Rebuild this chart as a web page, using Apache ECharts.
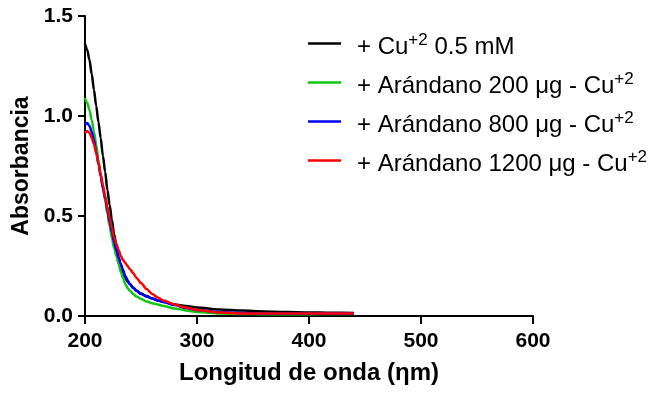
<!DOCTYPE html>
<html>
<head>
<meta charset="utf-8">
<script src="https://cdn.jsdelivr.net/npm/echarts@6/dist/echarts.min.js"></script>
<style>
html,body{margin:0;padding:0;background:#fff;}
#chart{width:659px;height:397px;}
</style>
</head>
<body>
<div id="chart"></div>
<script>
// Wavelength (nm) sample points
const wavelengths = [200,202,204,206,208,210,212,214,216,218,220,222,224,226,228,230,232,234,236,238,240,243,246,250,255,260,265,270,280,290,300,320,340,360,380,400,420,440];

const cuOnly = [1.36,1.33,1.28,1.21,1.13,1.05,0.97,0.89,0.80,0.72,0.63,0.555,0.48,0.41,0.35,0.295,0.25,0.215,0.19,0.172,0.16,0.142,0.127,0.112,0.10,0.088,0.078,0.07,0.058,0.05,0.043,0.033,0.027,0.023,0.02,0.018,0.016,0.015];
const aran200 = [1.09,1.065,1.03,0.98,0.92,0.855,0.78,0.705,0.64,0.58,0.51,0.45,0.39,0.34,0.30,0.26,0.22,0.19,0.16,0.14,0.127,0.11,0.097,0.085,0.073,0.064,0.057,0.05,0.038,0.028,0.02,0.012,0.01,0.009,0.009,0.009,0.01,0.01];
const aran800 = [0.955,0.965,0.95,0.92,0.88,0.82,0.76,0.70,0.64,0.59,0.53,0.47,0.42,0.37,0.33,0.29,0.26,0.23,0.20,0.18,0.16,0.14,0.125,0.11,0.097,0.087,0.078,0.07,0.055,0.04,0.03,0.02,0.015,0.013,0.012,0.012,0.012,0.012];
const aran1200 = [0.915,0.925,0.915,0.89,0.86,0.815,0.765,0.71,0.655,0.60,0.545,0.49,0.44,0.39,0.36,0.33,0.30,0.28,0.265,0.25,0.235,0.215,0.19,0.165,0.135,0.11,0.093,0.078,0.058,0.042,0.03,0.017,0.013,0.012,0.012,0.012,0.013,0.013];

const seriesNames = ['cu', 'a200', 'a800', 'a1200'];
const seriesLabels = {
  cu: '{a|+ Cu}{s|+2}{a| 0.5 mM}',
  a200: '{a|+ Arándano 200 μg - Cu}{s|+2}',
  a800: '{a|+ Arándano 800 μg - Cu}{s|+2}',
  a1200: '{a|+ Arándano 1200 μg - Cu}{s|+2}'
};
const seriesValues = [cuOnly, aran200, aran800, aran1200];
const seriesColors = ['#000000', '#10c810', '#0000ff', '#ff0000'];

const xTicks = [200, 300, 400, 500, 600];
const yTicks = [0.0, 0.5, 1.0, 1.5];

const FONT = '"Liberation Sans", Arial, sans-serif';

const chart = echarts.init(document.getElementById('chart'), null, {renderer: 'canvas'});

const series = seriesNames.map((n, i) => ({
  name: n,
  type: 'line',
  data: wavelengths.map((w, j) => [w, seriesValues[i][j]]),
  showSymbol: false,
  smooth: 0.3,
  smoothMonotone: 'x',
  lineStyle: {color: seriesColors[i], width: 2.5},
  itemStyle: {color: seriesColors[i]},
  emphasis: {disabled: true},
  z: 3 + i
}));

chart.setOption({
  animation: false,
  backgroundColor: '#ffffff',
  grid: {left: 85, right: 126, top: 16, bottom: 81, containLabel: false},
  xAxis: {
    type: 'value',
    min: xTicks[0], max: xTicks[xTicks.length - 1], interval: 100,
    name: 'Longitud de onda (ηm)',
    nameLocation: 'middle',
    nameGap: 45,
    nameTextStyle: {fontFamily: FONT, fontWeight: 'bold', fontSize: 24, color: '#000'},
    axisLine: {show: true, onZero: false, lineStyle: {color: '#000', width: 2}},
    axisTick: {show: true, length: 8, lineStyle: {color: '#000', width: 2}},
    axisLabel: {fontFamily: FONT, fontWeight: 'bold', fontSize: 21, color: '#000', margin: 15},
    splitLine: {show: false}
  },
  yAxis: {
    type: 'value',
    min: yTicks[0], max: yTicks[yTicks.length - 1], interval: 0.5,
    name: 'Absorbancia',
    nameLocation: 'middle',
    nameGap: 52,
    nameTextStyle: {fontFamily: FONT, fontWeight: 'bold', fontSize: 23, color: '#000'},
    axisLine: {show: true, onZero: false, lineStyle: {color: '#000', width: 2}},
    axisTick: {show: true, length: 7, lineStyle: {color: '#000', width: 2}},
    axisLabel: {fontFamily: FONT, fontWeight: 'bold', fontSize: 21, color: '#000', margin: 12,
      formatter: v => v.toFixed(1)},
    splitLine: {show: false}
  },
  legend: {
    orient: 'vertical',
    left: 303, top: 23,
    itemWidth: 33, itemHeight: 2.5,
    itemGap: 8,
    icon: 'rect',
    selectedMode: false,
    data: seriesNames.map((n, i) => ({name: n, itemStyle: {color: seriesColors[i]}})),
    formatter: n => seriesLabels[n],
    textStyle: {
      fontFamily: FONT, fontSize: 24, color: '#000',
      padding: [0, 0, 0, 11],
      rich: {
        a: {fontFamily: FONT, fontSize: 24, color: '#000', lineHeight: 24, padding: [7, 0, 0, 0]},
        s: {fontFamily: FONT, fontSize: 17, color: '#000', lineHeight: 17, verticalAlign: 'top'}
      }
    }
  },
  series: series
});
</script>
</body>
</html>
